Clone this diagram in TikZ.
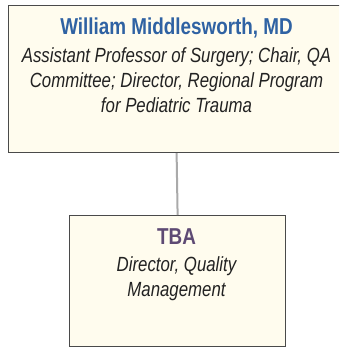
\documentclass[tikz,border=0pt]{standalone}
\usepackage{fontspec}
\setmainfont{Liberation Sans}[FakeStretch=0.82]
\usepackage{tikz}
\definecolor{boxfill}{HTML}{FFFCEE}
\definecolor{boxline}{HTML}{4A4A4A}
\definecolor{namecol}{HTML}{2F62A3}
\definecolor{tbacol}{HTML}{5E4A74}
\definecolor{linkcol}{HTML}{AAAAAA}
\definecolor{rolecol}{HTML}{222222}

\begin{document}
\begin{tikzpicture}[x=1pt,y=-1pt,
  orgbox/.style={draw=boxline,fill=boxfill,line width=1.2pt,inner sep=0pt},
  nametxt/.style={font=\bfseries\fontsize{23}{28}\selectfont,inner sep=0pt},
  roletxt/.style={font=\itshape\fontsize{20.5}{25}\selectfont,text=rolecol,align=center,inner sep=0pt},
  link/.style={draw=linkcol,line width=2pt}]
\useasboundingbox (0,0) rectangle (339,347);
\clip (0,0) rectangle (339,347);
% boxes
\node[orgbox,minimum width=336pt,minimum height=147pt,anchor=north west] (chair) at (8,5) {};
\node[orgbox,minimum width=216pt,minimum height=131pt,anchor=north west] (tba) at (69,215) {};
\draw[link] (chair.south) -- (tba.north);
% texts
\node[nametxt,text=namecol,anchor=base] (chairname) at (176.5,35) {William Middlesworth, MD};
\node[roletxt,anchor=base] (chairrole) at (176.5,113) {Assistant Professor of Surgery; Chair, QA\\Committee; Director, Regional Program\\for Pediatric Trauma};
\node[nametxt,text=tbacol,anchor=base] (tbaname) at (176.5,244) {TBA};
\node[roletxt,anchor=base] (tbarole) at (176.5,296) {Director, Quality\\Management};
\end{tikzpicture}
\end{document}
